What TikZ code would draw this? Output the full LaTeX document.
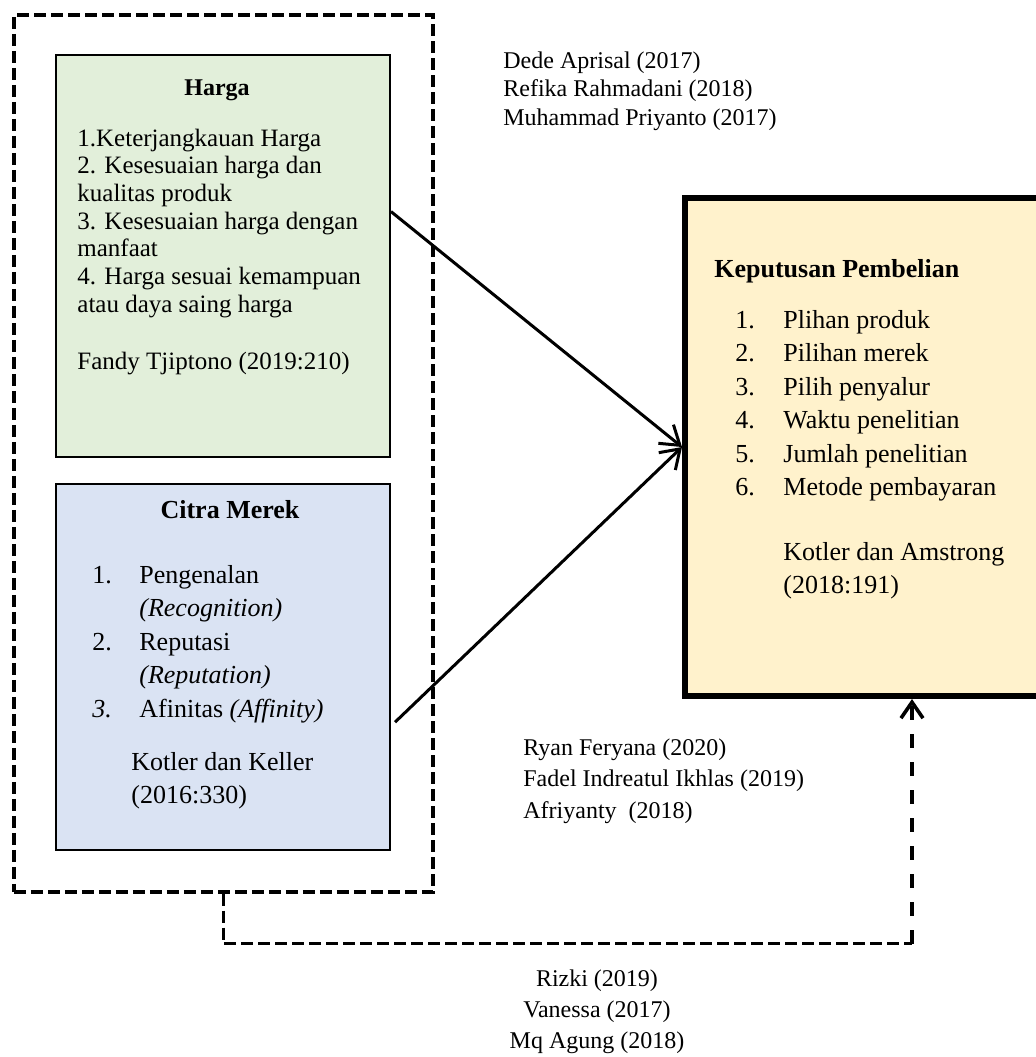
\documentclass[tikz,border=0pt]{standalone}
\usepackage{fontspec}
\setmainfont{Liberation Serif}
\usetikzlibrary{calc, arrows.meta}

\definecolor{hargagreen}{HTML}{E2EFDA}
\definecolor{merekblue}{HTML}{DAE3F3}
\definecolor{keputusanyellow}{HTML}{FFF2CC}

\begin{document}
\begin{tikzpicture}[
        x=0.5pt, y=-0.5pt,
        varbox/.style={draw, line width=1pt, anchor=north west, inner sep=0pt},
        txt/.style={inner sep=0pt, anchor=base west},
        src/.style={txt, font=\fontsize{12}{15.6}\selectfont},
        flow/.style={line width=1.5pt, -{Straight Barb[length=9pt, width=12pt]}},
        frameline/.style={line width=1.8pt, dash pattern=on 6pt off 2.5pt},
        backline/.style={line width=1.8pt, dash pattern=on 7pt off 7pt, -{Straight Barb[length=8pt, width=11pt]}}
    ]

        % Fix the page to the size of the figure
        \useasboundingbox (0,0) rectangle (1036,1057);

        % Dashed frame round the two independent variables
        \node[draw, frameline, anchor=north west, inner sep=0pt,
              minimum width=209.5pt, minimum height=438.5pt] (frame) at (12,13) {};

        % Variable boxes
        \node[varbox, fill=hargagreen, minimum width=167pt, minimum height=201pt] (harga) at (55,54) {};
        \node[varbox, fill=merekblue, minimum width=167pt, minimum height=183pt] (citra) at (55,483) {};
        \node[varbox, fill=keputusanyellow, line width=3pt, minimum width=227pt, minimum height=249pt] (keputusan) at (682,195) {};

        % Harga
        \node[txt, anchor=base, font=\fontsize{12}{14}\bfseries] (harga-title) at (217,95) {Harga};
        \node[txt, font=\fontsize{12.5}{13.85}\selectfont] (harga-list) at (77,146) {%
            \begin{tabular}[t]{@{}l@{}}
            1.Keterjangkauan Harga\\
            2. Kesesuaian harga dan\\
            kualitas produk\\
            3. Kesesuaian harga dengan\\
            manfaat\\
            4. Harga sesuai kemampuan\\
            atau daya saing harga
            \end{tabular}};
        \node[txt, font=\fontsize{12.5}{13.85}\selectfont] (harga-src) at (77,369) {Fandy Tjiptono (2019:210)};

        % Citra Merek
        \node[txt, anchor=base, font=\fontsize{13}{15}\bfseries] (citra-title) at (230,518) {Citra Merek};
        \node[txt, font=\fontsize{13}{16.75}\selectfont] (citra-list) at (92,583) {%
            \begin{tabular}[t]{@{}p{23.5pt}@{}l@{}}
            1. & Pengenalan\\
               & \textit{(Recognition)}\\
            2. & Reputasi\\
               & \textit{(Reputation)}\\
            \textit{3.} & Afinitas \textit{(Affinity)}
            \end{tabular}};
        \node[txt, font=\fontsize{13}{16.5}\selectfont] (citra-src) at (131,770) {%
            \begin{tabular}[t]{@{}l@{}}
            Kotler dan Keller\\
            (2016:330)
            \end{tabular}};

        % Keputusan Pembelian
        \node[txt, font=\fontsize{13}{15}\bfseries] (kp-title) at (714,277) {Keputusan Pembelian};
        \node[txt, font=\fontsize{13}{16.75}\selectfont] (kp-list) at (735,328) {%
            \begin{tabular}[t]{@{}p{24pt}@{}l@{}}
            1. & Plihan produk\\
            2. & Pilihan merek\\
            3. & Pilih penyalur\\
            4. & Waktu penelitian\\
            5. & Jumlah penelitian\\
            6. & Metode pembayaran
            \end{tabular}};
        \node[txt, font=\fontsize{13}{16.5}\selectfont] (kp-src) at (783,560) {%
            \begin{tabular}[t]{@{}l@{}}
            Kotler dan Amstrong\\
            (2018:191)
            \end{tabular}};

        % Previous studies
        \node[src, font=\fontsize{12}{14.25}\selectfont] (ref-top) at (503,68) {%
            \begin{tabular}[t]{@{}l@{}}
            Dede Aprisal (2017)\\
            Refika Rahmadani (2018)\\
            Muhammad Priyanto (2017)
            \end{tabular}};
        \node[src, font=\fontsize{12}{15.75}\selectfont] (ref-mid) at (523,755) {%
            \begin{tabular}[t]{@{}l@{}}
            Ryan Feryana (2020)\\
            Fadel Indreatul Ikhlas (2019)\\
            Afriyanty~ (2018)
            \end{tabular}};
        \node[src, anchor=base, font=\fontsize{12}{15.5}\selectfont] (ref-bottom) at (597,986) {%
            \begin{tabular}[t]{@{}c@{}}
            Rizki (2019)\\
            Vanessa (2017)\\
            Mq Agung (2018)
            \end{tabular}};

        % Partial effects
        \draw[flow] ($(harga.north east)!0.39!(harga.south east)$) -- (keputusan.west);
        \draw[flow] ($(citra.north east)!0.65!(citra.south east)+(4,0)$) -- (keputusan.west);

        % Joint effect
        \coordinate (bend) at ($(frame.south)+(0,50)$);
        \coordinate (turn) at (bend -| keputusan.south);
        \draw[frameline] (frame.south) -- (bend) -- (turn);
        \draw[backline] (turn) -- (keputusan.south);

    \end{tikzpicture}
\end{document}
